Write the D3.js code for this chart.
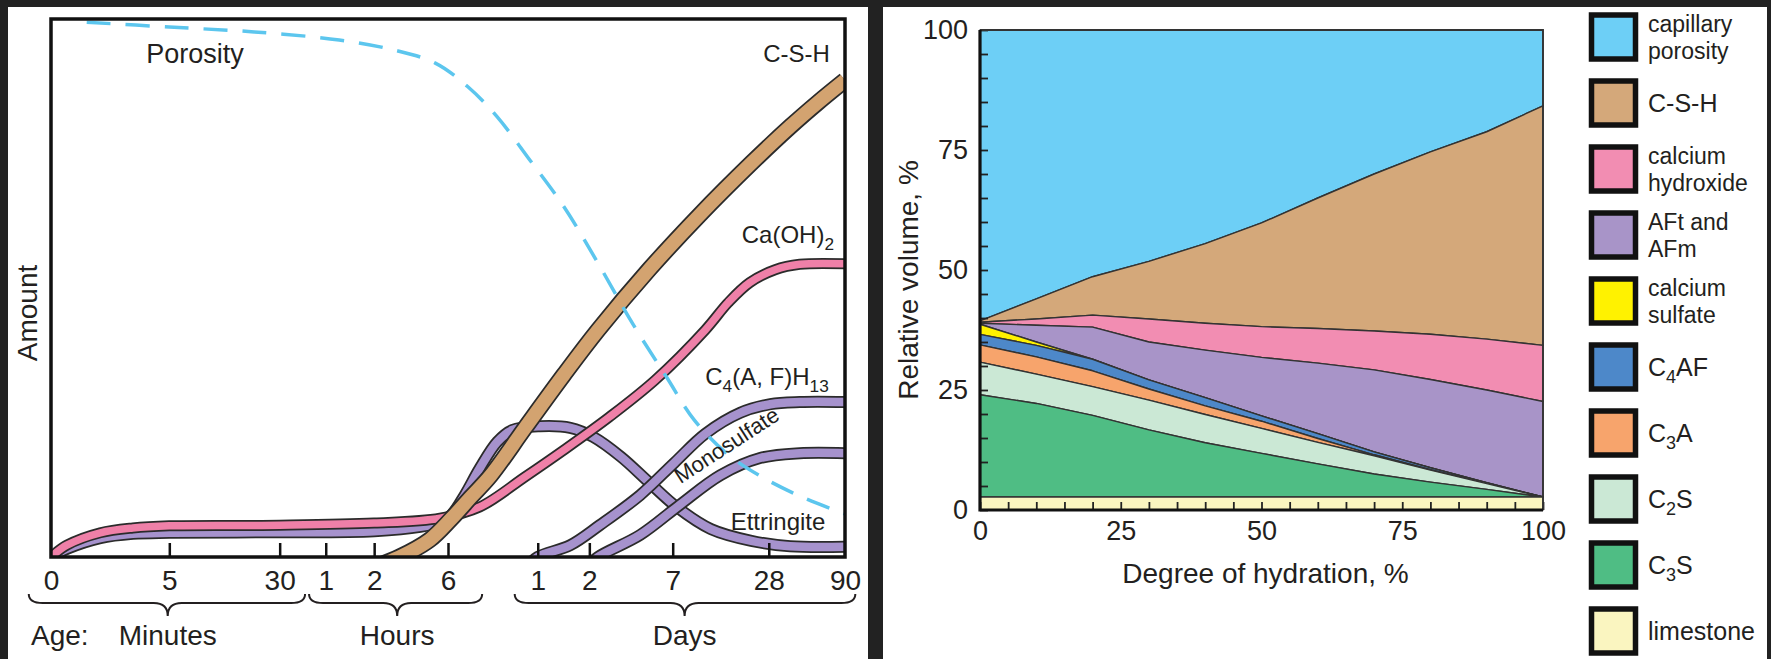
<!DOCTYPE html>
<html lang="en">
<head>
<meta charset="UTF-8">
<title>Cement hydration</title>
<script src="https://d3js.org/d3.v7.min.js"></script>
<style>
  body { margin: 0; background: #222; font-family: "Liberation Sans", Arial, sans-serif; }
  svg { display: block; }
  text { fill: #231f20; }
</style>
</head>
<body>
<svg id="chart" width="1771" height="659"></svg>
<script>
// ---------- left panel data (age axis in relative units 0..100, amount 0..100) ----------
const ageTickLabels = ["0", "5", "30", "1", "2", "6", "1", "2", "7", "28", "90"];
const ageTickPos = [0, 14.9, 28.8, 34.6, 40.7, 50.0, 61.3, 67.8, 78.3, 90.4, 100];
const ageGroups = ["Minutes", "Hours", "Days"];
const groupFrom = [-2.8, 32.5, 58.4];
const groupMid = [14.7, 43.6, 79.8];
const groupTo = [32.0, 54.3, 101.3];

const porosity = [[4.5, 99.4], [14.9, 98.5], [25.6, 97.6], [36.3, 96.1], [43.3, 94.2], [48.4, 91.8],
  [52.5, 87.4], [56.2, 81.8], [60.3, 73.8], [64.6, 65.1], [68.9, 54.6], [73.2, 43.5], [77.5, 33.5],
  [81.0, 25.5], [85.3, 19.0], [89.5, 14.9], [94.5, 11.2], [100, 8.0]];
const csh = [[40.5, -2], [43.9, 0], [47.7, 3.2], [50.4, 7.1], [52.8, 11.0], [55.4, 15.2], [59.7, 24.0],
  [64.6, 33.9], [68.9, 42.2], [75.3, 53.4], [81.7, 63.6], [88.2, 73.2], [93.1, 80.0], [96.6, 84.5], [100, 88.6]];
const caoh2 = [[0, 0], [2.0, 2.2], [6.2, 4.5], [10.3, 5.4], [14.9, 5.8], [28.8, 5.9], [40.7, 6.3],
  [49.0, 7.2], [54.0, 9.3], [59.7, 14.9], [64.6, 19.9], [70.3, 26.0], [76.1, 32.9], [82.4, 42.2],
  [85.3, 47.3], [88.0, 51.0], [91.2, 53.4], [94.3, 54.4], [100, 54.5]];
const ettringite = [[0, 0], [2.0, 1.5], [6.2, 3.5], [10.3, 4.3], [14.9, 4.5], [28.8, 4.6], [40.7, 4.8],
  [46.5, 5.6], [49.0, 6.5], [50.4, 7.8], [52.1, 11.5], [54.0, 16.5], [56.2, 21.4], [58.1, 23.6],
  [61.6, 24.3], [65.4, 24.0], [68.3, 22.3], [71.8, 18.6], [75.3, 13.9], [78.8, 9.3], [83.1, 5.2],
  [88.2, 3.0], [93.1, 2.0], [100, 1.9]];
const c4ah13 = [[59.8, -2], [61.3, 0], [65.4, 2.2], [69.1, 5.9], [74.2, 11.5], [78.5, 17.5], [82.4, 22.9],
  [86.8, 26.8], [90.6, 28.4], [94.3, 28.8], [100, 28.8]];
const monosulfate = [[67.4, -2], [68.9, 0], [74.2, 4.1], [79.2, 9.7], [84.3, 15.2], [89.3, 18.4],
  [94.3, 19.3], [100, 19.3]];

// ---------- right panel data (relative volume %, by degree of hydration) ----------
const hydration = [0, 10, 20, 30, 40, 50, 60, 70, 80, 90, 100];
const limestone = [2.7, 2.7, 2.7, 2.7, 2.7, 2.7, 2.7, 2.7, 2.7, 2.7, 2.7];
const c3s = [21.3, 19.5, 17.0, 14.0, 11.3, 9.1, 6.9, 4.8, 3.1, 1.6, 0];
const c2s = [6.8, 6.1, 6.0, 6.2, 5.9, 5.2, 4.5, 3.8, 2.5, 1.2, 0];
const c3a = [3.6, 3.6, 3.3, 2.3, 1.8, 1.5, 0.8, 0.2, 0.1, 0, 0];
const c4af = [2.2, 2.4, 2.4, 1.9, 1.7, 1.1, 1.0, 0.6, 0.4, 0.2, 0];
const sulfate = [2.1, 0.7, 0, 0, 0, 0, 0, 0, 0, 0, 0];
const aftAfm = [0.2, 3.5, 6.7, 7.9, 9.9, 12.2, 14.7, 17.1, 18.4, 19.3, 19.9];
const calciumHydroxide = [0.2, 1.3, 2.5, 4.8, 5.6, 6.4, 7.2, 8.1, 9.4, 10.6, 11.7];
const cshVolume = [0.3, 4.2, 8.0, 12.0, 16.6, 21.6, 27.2, 32.7, 38.0, 43.2, 49.9];
const capillary = [60.6, 56.0, 51.4, 48.2, 44.5, 40.2, 35.0, 30.0, 25.4, 21.2, 15.8];

const volumeTicks = [0, 25, 50, 75, 100];
const hydrationTicks = [0, 25, 50, 75, 100];
const legendLabels = [["capillary", "porosity"], ["C-S-H"], ["calcium", "hydroxide"], ["AFt and", "AFm"],
  ["calcium", "sulfate"], ["C_4AF"], ["C_3A"], ["C_2S"], ["C_3S"], ["limestone"]];
const legendColors = ["#6dcff6", "#d4a87a", "#f28db2", "#a894c8", "#fff200", "#4d88c9", "#f7a46c",
  "#cbe8d5", "#4fbd84", "#faf5c0"];

const svg = d3.select("#chart");

// white panels on dark backing
svg.append("rect").attr("x", 8).attr("y", 7).attr("width", 860).attr("height", 660).attr("fill", "#fff");
svg.append("rect").attr("x", 883).attr("y", 7).attr("width", 884).attr("height", 660).attr("fill", "#fff");

// subscript helper: "C_4AF" -> C<sub>4</sub>AF
function rich(text, str, size) {
  const parts = str.split(/_(\d+)/);
  let shifted = false;
  parts.forEach((p, i) => {
    if (!p) return;
    const t = text.append("tspan").text(p);
    if (i % 2 === 1) {
      t.attr("font-size", size * 0.72).attr("dy", size * 0.28);
      shifted = true;
    } else if (shifted) {
      t.attr("dy", -size * 0.28);
      shifted = false;
    }
  });
}

// ================= LEFT PANEL =================
const xAge = d3.scaleLinear().domain([0, 100]).range([51, 845]);
const yAmt = d3.scaleLinear().domain([0, 100]).range([557, 19]);
const gL = svg.append("g");

svg.append("clipPath").attr("id", "clipL").append("rect")
  .attr("x", 51).attr("y", 19).attr("width", 794).attr("height", 538);

const lineAge = d3.line().x(d => xAge(d[0])).y(d => yAmt(d[1])).curve(d3.curveCatmullRom.alpha(0.5));
const curves = gL.append("g").attr("clip-path", "url(#clipL)");

function band(points, color, w) {
  const d = lineAge(points);
  curves.append("path").attr("d", d).attr("fill", "none").attr("stroke", "#2b2b2b").attr("stroke-width", w);
  curves.append("path").attr("d", d).attr("fill", "none").attr("stroke", color).attr("stroke-width", w - 3.5);
}
band(ettringite, "#a692cd", 12);
band(c4ah13, "#a692cd", 12);
band(monosulfate, "#a692cd", 12);
band(caoh2, "#ef80a8", 11);
band(csh, "#d3a370", 17);
curves.append("path").attr("d", lineAge(porosity)).attr("fill", "none")
  .attr("stroke", "#5cc6ee").attr("stroke-width", 3.5).attr("stroke-dasharray", "24 15");

// frame
gL.append("rect").attr("x", 51).attr("y", 19).attr("width", 794).attr("height", 538)
  .attr("fill", "none").attr("stroke", "#111").attr("stroke-width", 3.5);

// inner ticks
gL.append("g").attr("transform", "translate(0,557)")
  .call(d3.axisTop(xAge).tickValues(ageTickPos.slice(1, -1)).tickSize(14).tickFormat(""))
  .call(g => g.select(".domain").remove())
  .call(g => g.selectAll("line").attr("stroke", "#111").attr("stroke-width", 2.5));

// tick labels
gL.append("g").attr("transform", "translate(0,557)")
  .call(d3.axisBottom(xAge).tickValues(ageTickPos).tickSize(0).tickPadding(13)
    .tickFormat((d, i) => ageTickLabels[i]))
  .call(g => g.select(".domain").remove())
  .call(g => g.selectAll("text").attr("font-size", 28).attr("font-family", "Liberation Sans, Arial, sans-serif").attr("fill", "#231f20"));

// braces
function bracePath(a, m, b) {
  const xa = xAge(a), xm = xAge(m), xb = xAge(b);
  const yt = 594, ym = 603, yb = 616, r = 14;
  return `M${xa},${yt} Q${xa},${ym} ${xa + r},${ym} L${xm - r},${ym} Q${xm},${ym} ${xm},${yb} ` +
    `Q${xm},${ym} ${xm + r},${ym} L${xb - r},${ym} Q${xb},${ym} ${xb},${yt}`;
}
ageGroups.forEach((name, i) => {
  gL.append("path").attr("d", bracePath(groupFrom[i], groupMid[i], groupTo[i]))
    .attr("fill", "none").attr("stroke", "#231f20").attr("stroke-width", 2);
  gL.append("text").attr("x", xAge(groupMid[i])).attr("y", 645).attr("text-anchor", "middle")
    .attr("font-size", 28).text(name);
});
gL.append("text").attr("x", 31).attr("y", 645).attr("font-size", 28).text("Age:");

gL.append("text").attr("transform", "translate(37,313) rotate(-90)").attr("text-anchor", "middle")
  .attr("font-size", 28).text("Amount");

// curve annotations
gL.append("text").attr("x", xAge(12.0)).attr("y", yAmt(91.8)).attr("font-size", 27).text("Porosity");
gL.append("text").attr("x", xAge(98.1)).attr("y", yAmt(92.0)).attr("text-anchor", "end").attr("font-size", 24).text("C-S-H");
rich(gL.append("text").attr("x", xAge(87.0)).attr("y", yAmt(58.4)).attr("font-size", 24), "Ca(OH)_2", 24);
rich(gL.append("text").attr("x", xAge(82.4)).attr("y", yAmt(32.0)).attr("font-size", 24), "C_4(A, F)H_13", 24);
gL.append("text").attr("transform", `translate(${xAge(85.6)},${yAmt(19.6)}) rotate(-33)`)
  .attr("text-anchor", "middle").attr("font-size", 22).text("Monosulfate");
gL.append("text").attr("x", xAge(85.6)).attr("y", yAmt(5.0)).attr("font-size", 24).text("Ettringite");

// ================= RIGHT PANEL =================
const xH = d3.scaleLinear().domain([0, 100]).range([980, 1543]);
const yV = d3.scaleLinear().domain([0, 100]).range([510, 30]);
const gR = svg.append("g");

const keys = ["limestone", "c3s", "c2s", "c3a", "c4af", "sulfate", "aft", "ch", "csh", "capillary"];
const series = [limestone, c3s, c2s, c3a, c4af, sulfate, aftAfm, calciumHydroxide, cshVolume, capillary];
const layerColors = ["#faf5c0", "#4fbd84", "#cbe8d5", "#f7a46c", "#4d88c9", "#fff200", "#a894c8", "#f28db2", "#d4a87a", "#6dcff6"];
const table = hydration.map((h, i) => {
  const row = { deg: h };
  keys.forEach((k, j) => { row[k] = series[j][i]; });
  return row;
});
const stacked = d3.stack().keys(keys)(table);
const area = d3.area().x(d => xH(d.data.deg)).y0(d => yV(d[0])).y1(d => yV(d[1]));

gR.selectAll("path.layer").data(stacked.slice().reverse()).join("path")
  .attr("class", "layer")
  .attr("d", area)
  .attr("fill", d => layerColors[keys.indexOf(d.key)])
  .attr("stroke", "#333")
  .attr("stroke-width", 1.4)
  .attr("stroke-linejoin", "round");

// minor ticks inside limestone strip and along the left axis
gR.append("g").attr("transform", "translate(0,510)")
  .call(d3.axisTop(xH).ticks(20).tickSize(8).tickFormat(""))
  .call(g => g.select(".domain").remove())
  .call(g => g.selectAll("line").attr("stroke", "#222").attr("stroke-width", 1.8));
gR.append("g").attr("transform", "translate(980,0)")
  .call(d3.axisRight(yV).ticks(20).tickSize(8).tickFormat(""))
  .call(g => g.select(".domain").remove())
  .call(g => g.selectAll("line").attr("stroke", "#222").attr("stroke-width", 1.8));

// frame: thin top/right, heavy left/bottom
gR.append("path").attr("d", `M${xH(0)},${yV(100)} H${xH(100)} V${yV(0)}`)
  .attr("fill", "none").attr("stroke", "#333").attr("stroke-width", 1.8);
gR.append("path").attr("d", `M${xH(0)},${yV(100)} V${yV(0)} H${xH(100)}`)
  .attr("fill", "none").attr("stroke", "#111").attr("stroke-width", 3.2);

// tick labels
gR.append("g").attr("transform", "translate(980,0)")
  .call(d3.axisLeft(yV).tickValues(volumeTicks).tickSize(0).tickPadding(12))
  .call(g => g.select(".domain").remove())
  .call(g => g.selectAll("text").attr("font-size", 27).attr("font-family", "Liberation Sans, Arial, sans-serif").attr("fill", "#231f20"));
gR.append("g").attr("transform", "translate(0,510)")
  .call(d3.axisBottom(xH).tickValues(hydrationTicks).tickSize(0).tickPadding(11))
  .call(g => g.select(".domain").remove())
  .call(g => g.selectAll("text").attr("font-size", 27).attr("font-family", "Liberation Sans, Arial, sans-serif").attr("fill", "#231f20"));

gR.append("text").attr("x", (xH(0) + xH(100)) / 2 + 4).attr("y", 583).attr("text-anchor", "middle")
  .attr("font-size", 28).text("Degree of hydration, %");
gR.append("text").attr("transform", `translate(918,${yV(50) + 10}) rotate(-90)`).attr("text-anchor", "middle")
  .attr("font-size", 28).text("Relative volume, %");

// legend
const leg = gR.selectAll("g.leg").data(legendLabels).join("g").attr("class", "leg")
  .attr("transform", (d, i) => `translate(1591.5,${37 + i * 66})`);
leg.append("rect").attr("x", 0).attr("y", -22).attr("width", 44).attr("height", 44)
  .attr("fill", (d, i) => legendColors[i]).attr("stroke", "#111").attr("stroke-width", 5.5);
leg.each(function (lines) {
  const g = d3.select(this);
  const size = lines.length === 1 ? 25 : 23;
  const base = lines.length === 1 ? [9] : [-5, 22];
  lines.forEach((ln, k) => {
    rich(g.append("text").attr("x", 56.5).attr("y", base[k]).attr("font-size", size), ln, size);
  });
});
</script>
</body>
</html>
